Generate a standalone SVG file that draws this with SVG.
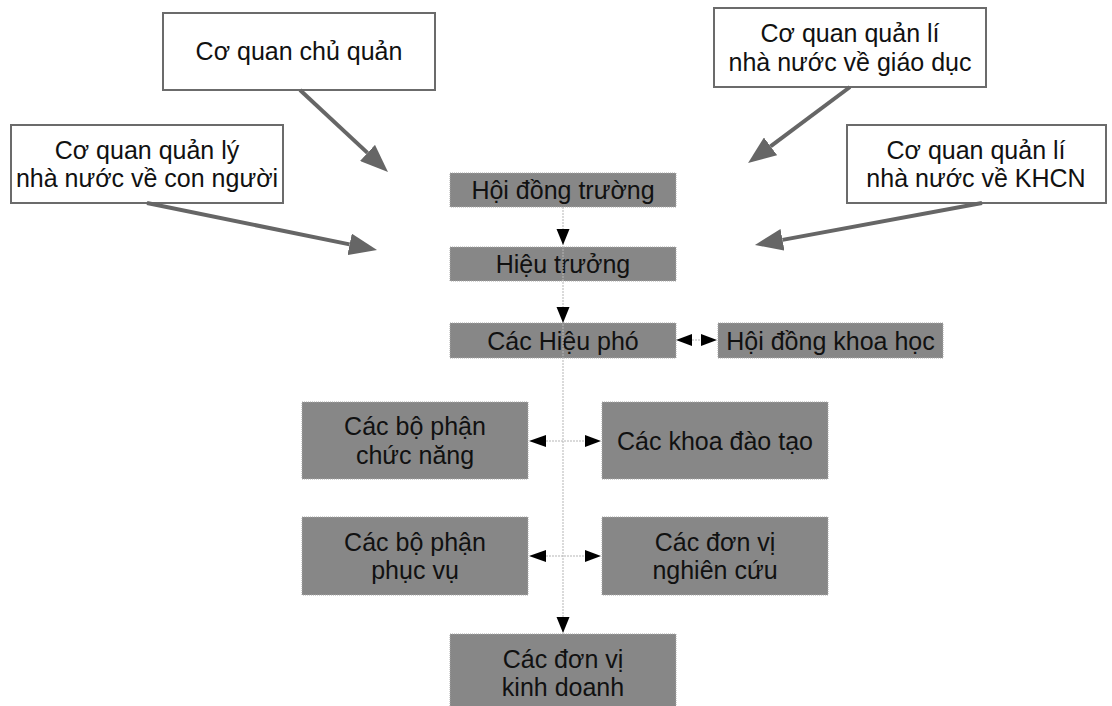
<svg xmlns="http://www.w3.org/2000/svg" width="1112" height="706" viewBox="0 0 1112 706">
  <style>
    .ext rect { fill: #ffffff; stroke: #6b6b6b; stroke-width: 2; }
    .unit rect { fill: #878787; stroke: #a8a8a8; stroke-width: 1; stroke-dasharray: 1 1; }
    text { font-family: "Liberation Sans", Arial, sans-serif; font-size: 25px; fill: #111111; text-anchor: middle; }
    .influence { stroke: #666666; stroke-width: 4; fill: none; marker-end: url(#bigHead); }
    .link { stroke: #b5b5b5; stroke-width: 1; stroke-dasharray: 2 1; fill: none; }
    .head { fill: #000000; }
  </style>
  <defs>
    <marker id="bigHead" markerUnits="userSpaceOnUse" viewBox="0 0 28 22" markerWidth="28" markerHeight="22" refX="0" refY="11" orient="auto">
      <path d="M0,0 L28,11 L0,22 Z" fill="#666666"/>
    </marker>
  </defs>
  <rect width="1112" height="706" fill="#ffffff"/>

  <!-- external authorities -->
  <g id="co-quan-chu-quan" class="ext">
    <rect x="163" y="13" width="272" height="77"/>
    <text x="299" y="60">Cơ quan chủ quản</text>
  </g>
  <g id="co-quan-con-nguoi" class="ext">
    <rect x="11" y="125" width="272" height="78"/>
    <text x="147" y="158.5">Cơ quan quản lý</text>
    <text x="147" y="187">nhà nước về con người</text>
  </g>
  <g id="co-quan-giao-duc" class="ext">
    <rect x="714" y="8" width="272" height="79"/>
    <text x="850" y="42">Cơ quan quản lí</text>
    <text x="850" y="70.5">nhà nước về giáo dục</text>
  </g>
  <g id="co-quan-khcn" class="ext">
    <rect x="847" y="125" width="259" height="78"/>
    <text x="976" y="158.5">Cơ quan quản lí</text>
    <text x="976" y="187">nhà nước về KHCN</text>
  </g>

  <!-- internal units -->
  <g id="hoi-dong-truong" class="unit">
    <rect x="450" y="173" width="226" height="34"/>
    <text x="563" y="199">Hội đồng trường</text>
  </g>
  <g id="hieu-truong" class="unit">
    <rect x="450" y="247" width="226" height="34"/>
    <text x="563" y="273">Hiệu trưởng</text>
  </g>
  <g id="cac-hieu-pho" class="unit">
    <rect x="450" y="323" width="226" height="35"/>
    <text x="563" y="349.5">Các Hiệu phó</text>
  </g>
  <g id="hoi-dong-khoa-hoc" class="unit">
    <rect x="718" y="323" width="225" height="35"/>
    <text x="830.5" y="349.5">Hội đồng khoa học</text>
  </g>
  <g id="bo-phan-chuc-nang" class="unit">
    <rect x="302" y="402" width="226" height="77"/>
    <text x="415" y="435">Các bộ phận</text>
    <text x="415" y="463.5">chức năng</text>
  </g>
  <g id="khoa-dao-tao" class="unit">
    <rect x="602" y="402" width="226" height="77"/>
    <text x="715" y="449.5">Các khoa đào tạo</text>
  </g>
  <g id="bo-phan-phuc-vu" class="unit">
    <rect x="302" y="517" width="226" height="78"/>
    <text x="415" y="550.5">Các bộ phận</text>
    <text x="415" y="579">phục vụ</text>
  </g>
  <g id="don-vi-nghien-cuu" class="unit">
    <rect x="602" y="517" width="226" height="78"/>
    <text x="715" y="550.5">Các đơn vị</text>
    <text x="715" y="579">nghiên cứu</text>
  </g>
  <g id="don-vi-kinh-doanh" class="unit">
    <rect x="450" y="634" width="226" height="78"/>
    <text x="563" y="667.5">Các đơn vị</text>
    <text x="563" y="696">kinh doanh</text>
  </g>

  <!-- connectors -->
  <g id="connectors">
    <line class="influence" x1="300" y1="90" x2="367.5" y2="152.9"/>
    <line class="influence" x1="147" y1="203" x2="349.6" y2="244.4"/>
    <line class="influence" x1="850" y1="87" x2="770.5" y2="146.3"/>
    <line class="influence" x1="982" y1="203" x2="782.5" y2="239.9"/>

    <line class="link" x1="563" y1="207" x2="563" y2="634"/>
    <line class="link" x1="692" y1="340" x2="701" y2="340"/>
    <line class="link" x1="546" y1="441" x2="585" y2="441"/>
    <line class="link" x1="546" y1="556" x2="585" y2="556"/>

    <polygon class="head" points="556.5,229 569.5,229 563,245"/>
    <polygon class="head" points="556.5,307 569.5,307 563,323"/>
    <polygon class="head" points="556.5,617 569.5,617 563,633"/>

    <polygon class="head" points="692,334 692,346 676,340"/>
    <polygon class="head" points="701,334 701,346 717,340"/>
    <polygon class="head" points="546,435 546,447 529,441"/>
    <polygon class="head" points="585,435 585,447 601,441"/>
    <polygon class="head" points="546,550 546,562 529,556"/>
    <polygon class="head" points="585,550 585,562 601,556"/>
  </g>
</svg>
